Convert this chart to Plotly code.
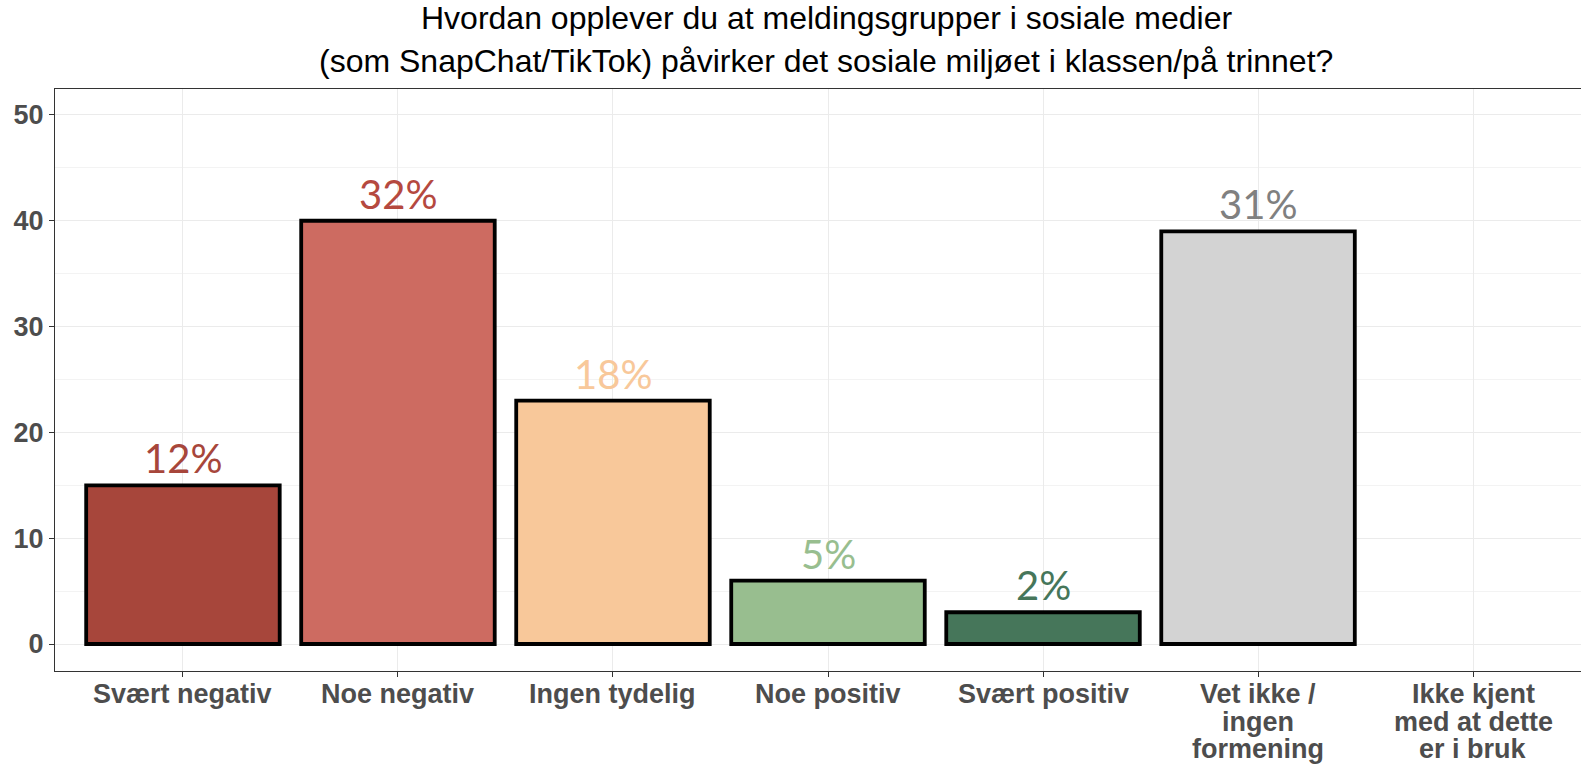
import plotly.graph_objects as go

categories = ["Svært negativ", "Noe negativ", "Ingen tydelig", "Noe positiv",
              "Svært positiv", "Vet ikke /\ningen\nformening",
              "Ikke kjent\nmed at dette\ner i bruk"]
counts = [15, 40, 23, 6, 3, 39, 0]
pct_labels = ["12%", "32%", "18%", "5%", "2%", "31%", ""]
bar_colors = ["#A7463B", "#CD6B61", "#F8C89A", "#98BE8F", "#46765A", "#D3D3D3", "#D3D3D3"]
label_colors = ["#A7463B", "#B5493F", "#F8C89A", "#98BE8F", "#46765A", "#808080", "#808080"]
title_lines = ["Hvordan opplever du at meldingsgrupper i sosiale medier",
               "(som SnapChat/TikTok) påvirker det sosiale miljøet i klassen/på trinnet?"]
y_ticks = [0, 10, 20, 30, 40, 50]

xs = list(range(len(categories)))
TICK_FONT = dict(family="Liberation Sans", size=27, color="#4D4D4D", weight="bold")

fig = go.Figure()
shown = [i for i in xs if counts[i] > 0]
fig.add_trace(go.Bar(
    x=[xs[i] for i in shown], y=[counts[i] for i in shown], width=0.9,
    marker=dict(color=[bar_colors[i] for i in shown], line=dict(color="black", width=3.8)),
    hoverinfo="skip", showlegend=False,
))

# percentage labels above bars
for i in shown:
    fig.add_annotation(x=xs[i], y=counts[i], text=pct_labels[i], showarrow=False,
                       yanchor="bottom", yshift=1,
                       font=dict(family="Lato", size=40, color=label_colors[i]))

# category labels (one annotation per line for tight line spacing)
for i, cat in enumerate(categories):
    for j, line in enumerate(cat.split("\n")):
        fig.add_annotation(x=xs[i], xref="x", y=0, yref="paper", text=line,
                           showarrow=False, yanchor="top", yshift=-6 - 27.7 * j,
                           font=TICK_FONT)

# title lines
for j, line in enumerate(title_lines):
    fig.add_annotation(x=0.5, xref="paper", y=1, yref="paper", text=line,
                       showarrow=False, xshift=8, yanchor="bottom",
                       yshift=51 - 43 * j,
                       font=dict(family="Liberation Sans", size=32, color="black"))

fig.update_layout(
    width=1581, height=766,
    margin=dict(l=55, r=0, t=89, b=95),
    plot_bgcolor="white", paper_bgcolor="white",
    bargap=0.1,
)
fig.update_xaxes(
    range=[-0.595, 6.502], tickmode="array", tickvals=xs, showticklabels=False,
    showline=True, linecolor="#333333", linewidth=1.3, mirror=True,
    ticks="outside", ticklen=5, tickcolor="#333333",
    showgrid=True, gridcolor="#EBEBEB", gridwidth=1, zeroline=False,
    automargin=False,
)
fig.update_yaxes(
    range=[-2.55, 52.45], tickvals=y_ticks,
    showline=True, linecolor="#333333", linewidth=1.3, mirror=False,
    ticks="outside", ticklen=5, tickcolor="#333333",
    showgrid=True, gridcolor="#EBEBEB", gridwidth=1, zeroline=False,
    minor=dict(dtick=5, showgrid=True, gridcolor="#F3F3F3", gridwidth=0.8),
    tickfont=TICK_FONT, automargin=False,
)

fig.write_html("out.html", config={"displayModeBar": False},
               post_script="document.body.style.margin='0';document.body.style.overflow='hidden';")
